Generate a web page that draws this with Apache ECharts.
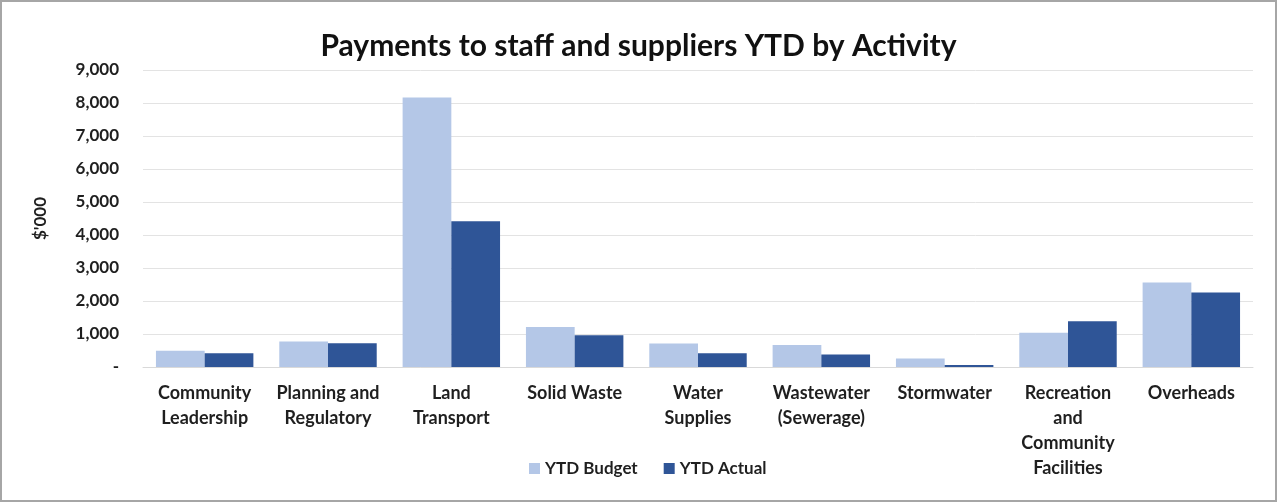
<!DOCTYPE html>
<html>
<head>
<meta charset="utf-8">
<script src="https://cdn.jsdelivr.net/npm/echarts@6/dist/echarts.min.js"></script>
<style>
html, body { margin: 0; padding: 0; background: #fff; }
#chart { width: 1277px; height: 502px; box-sizing: border-box; border: 2px solid #a6a6a6; }
</style>
</head>
<body>
<div id="chart"></div>
<script>
// activities along the x axis
const activities = [
    'Community\nLeadership',
    'Planning and\nRegulatory',
    'Land\nTransport',
    'Solid Waste',
    'Water\nSupplies',
    'Wastewater\n(Sewerage)',
    'Stormwater',
    'Recreation\nand\nCommunity\nFacilities',
    'Overheads'
];
// $'000
const ytdBudget = [490, 770, 8170, 1210, 710, 670, 260, 1040, 2560];
const ytdActual = [420, 720, 4420, 960, 420, 380, 60, 1390, 2260];
const yTicks = [0, 1000, 2000, 3000, 4000, 5000, 6000, 7000, 8000, 9000];

const font = 'Lato, "Open Sans", sans-serif';
const textColor = '#1f1f1f';

const myChart = echarts.init(document.getElementById('chart'));
myChart.setOption({
    textStyle: { fontFamily: font },
    title: {
        text: 'Payments to staff and suppliers YTD by Activity',
        left: 'center',
        top: 24,
        textStyle: { fontSize: 30, fontWeight: 'bold', color: '#111', fontFamily: font }
    },
    color: ['#b4c7e7', '#2f5597'],
    legend: {
        bottom: 18,
        left: 522,
        itemWidth: 11,
        itemHeight: 11,
        itemGap: 26,
        icon: 'rect',
        textStyle: { fontSize: 17, fontWeight: 'bold', color: textColor, fontFamily: font },
        data: ['YTD Budget', 'YTD Actual']
    },
    grid: {
        left: 141,
        right: 22,
        top: 68,
        bottom: 133
    },
    xAxis: {
        type: 'category',
        data: activities,
        axisTick: { show: false },
        axisLine: { lineStyle: { color: '#d9d9d9' } },
        axisLabel: {
            interval: 0,
            fontSize: 18,
            fontWeight: 'bold',
            color: textColor,
            lineHeight: 25,
            margin: 14,
            fontFamily: font
        }
    },
    yAxis: {
        type: 'value',
        min: yTicks[0],
        max: yTicks[yTicks.length - 1],
        interval: 1000,
        name: "$'000",
        nameLocation: 'middle',
        nameGap: 94,
        nameRotate: 90,
        nameTextStyle: { fontSize: 17, fontWeight: 'bold', color: textColor, fontFamily: font },
        splitLine: { lineStyle: { color: '#e3e3e3' } },
        axisLabel: {
            fontSize: 17,
            fontWeight: 'bold',
            color: textColor,
            margin: 24,
            fontFamily: font,
            formatter: v => v === 0 ? '-' : v.toLocaleString('en-US')
        }
    },
    series: [{
        name: 'YTD Budget',
        type: 'bar',
        data: ytdBudget,
        barGap: '0%',
        barCategoryGap: '21%'
    }, {
        name: 'YTD Actual',
        type: 'bar',
        data: ytdActual
    }]
});
</script>
</body>
</html>
